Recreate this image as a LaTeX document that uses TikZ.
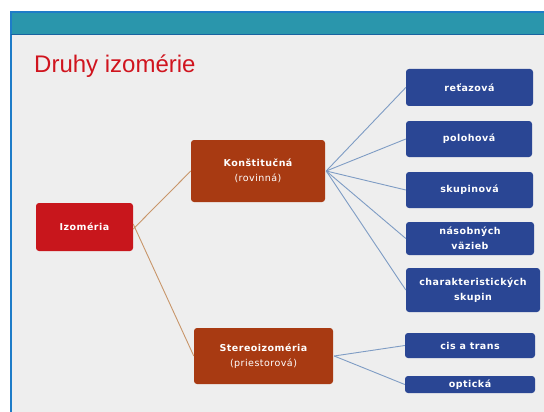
\documentclass[tikz,border=0pt]{standalone}
\usepackage{fontspec}
\setmainfont{Liberation Sans}
\newfontfamily\boxfont[LetterSpace=5]{DejaVu Sans}
\definecolor{bgc}{HTML}{EEEEEE}
\definecolor{framec}{HTML}{1E7CC8}
\definecolor{bandc}{HTML}{2A96AC}
\definecolor{titlec}{HTML}{D0141E}
\definecolor{redbox}{HTML}{C8161C}
\definecolor{brownbox}{HTML}{A83A12}
\definecolor{bluebox}{HTML}{2A4694}
\definecolor{tanline}{HTML}{C8966A}
\definecolor{blueline}{HTML}{7E9CC4}
\tikzset{
  box/.style={rounded corners=3pt, text=white, align=center, font=\boxfont\fontsize{9.5}{15.5}\selectfont\bfseries, inner sep=0pt},
  redb/.style={box, fill=redbox, minimum width=97pt, minimum height=48pt},
  brownb/.style={box, fill=brownbox},
  blueb/.style={box, fill=bluebox, minimum width=128pt},
  tanc/.style={draw=tanline, line width=0.9pt},
  bluec/.style={draw=blueline, line width=0.9pt},
}
\begin{document}
\begin{tikzpicture}[x=1pt,y=-1pt]
\useasboundingbox (0,0) rectangle (544,412);
\fill[white] (0,0) rectangle (544,412);
\fill[bgc] (11,12) rectangle (546,414);
\fill[bandc] (11,12) rectangle (546,34);
\draw[framec, line width=1.6pt] (11,414) -- (11,12) -- (546,12);
\draw[framec!80!black, line width=0.6pt] (11,34) -- (546,34);
\node[anchor=base west, text=titlec, font=\fontsize{24}{28}\selectfont, inner sep=0pt] (title) at (34,73) {Druhy izomérie};

\node[redb] (izo) at (84.5,227) {Izoméria};
\node[brownb, minimum width=134pt, minimum height=62pt] (kon) at (258,171) {Konštitučná\\{\mdseries (rovinná)}};
\node[brownb, minimum width=139pt, minimum height=56pt] (ste) at (263.5,356) {Stereoizoméria\\{\mdseries (priestorová)}};

\node[blueb, minimum width=127pt, minimum height=37pt] (b1) at (469.5,87.5) {reťazová};
\node[blueb, minimum width=126pt, minimum height=36pt] (b2) at (469,139) {polohová};
\node[blueb, minimum width=127pt, minimum height=36pt] (b3) at (469.5,190) {skupinová};
\node[blueb, minimum width=128pt, minimum height=33pt] (b4) at (470,238.5) {násobných\\väzieb};
\node[blueb, minimum width=134pt, minimum height=44pt] (b5) at (473,290) {charakteristických\\skupin};
\node[blueb, minimum width=130pt, minimum height=25pt] (b6) at (470,345.5) {cis a trans};
\node[blueb, minimum width=130pt, minimum height=17pt] (b7) at (470,384.5) {optická};

\coordinate (ka) at ([xshift=1pt]kon.east);
\coordinate (sa) at ([xshift=1pt]ste.east);
\draw[tanc] ([yshift=-2pt]izo.east) -- (kon.west);
\draw[tanc] ([yshift=3pt]izo.east) -- (ste.west);
\foreach \b in {b1,b2,b3,b4,b5} \draw[bluec] (ka) -- (\b.west);
\foreach \b in {b6,b7} \draw[bluec] (sa) -- (\b.west);
\end{tikzpicture}
\end{document}
